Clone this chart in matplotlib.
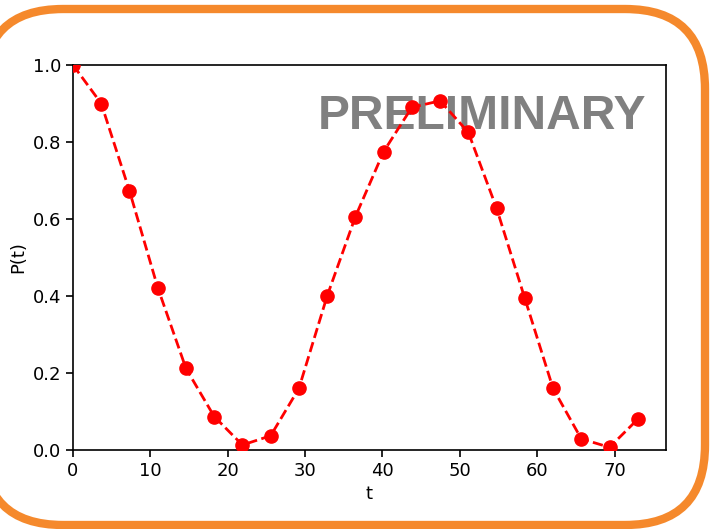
import matplotlib
matplotlib.use("Agg")
import matplotlib.pyplot as plt
from matplotlib.patches import FancyBboxPatch
from matplotlib.transforms import IdentityTransform

# data
t = [0.0, 3.65, 7.3, 10.95, 14.6, 18.25, 21.9, 25.55, 29.2, 32.85, 36.5,
     40.15, 43.8, 47.45, 51.1, 54.75, 58.4, 62.05, 65.7, 69.35, 73.0]
P = [1.0, 0.900, 0.673, 0.422, 0.212, 0.087, 0.013, 0.037, 0.160, 0.400, 0.606,
     0.775, 0.890, 0.907, 0.825, 0.628, 0.394, 0.160, 0.029, 0.007, 0.080]

plt.rcParams['font.family'] = ['DejaVu Sans']
plt.rcParams['font.size'] = 13

fig = plt.figure(figsize=(7.1, 5.29), dpi=100)
ax = fig.add_axes([73/710, 1-450/529, 593/710, 385/529])

ax.plot(t, P, "--o", color="red", lw=2.0, ms=9.5, zorder=3)
ax.set_xlim(left=0)
ax.set_ylim(0, 1)
ax.set_xlabel("t", fontsize=13, labelpad=4)
ax.set_ylabel("P(t)", fontsize=13, labelpad=4)
ax.tick_params(length=5, width=1.2, labelsize=13)
for s in ax.spines.values():
    s.set_linewidth(1.2)

ax.text(0.689, 0.865, "PRELIMINARY", transform=ax.transAxes, ha="center", va="center",
        fontsize=34.5, fontweight="bold", color="#808080", family="Liberation Sans", zorder=1)

# orange rounded frame (pixel coords), filled white so Agg does not clip the stroke to the canvas edge
box = FancyBboxPatch((-17, 4), 722, 516, boxstyle="round,pad=0,rounding_size=80",
                     transform=IdentityTransform(), fc="white", ec="#f5892c", lw=6.0, zorder=-1)
fig.patches.append(box)

fig.savefig("out.png", dpi=100)
